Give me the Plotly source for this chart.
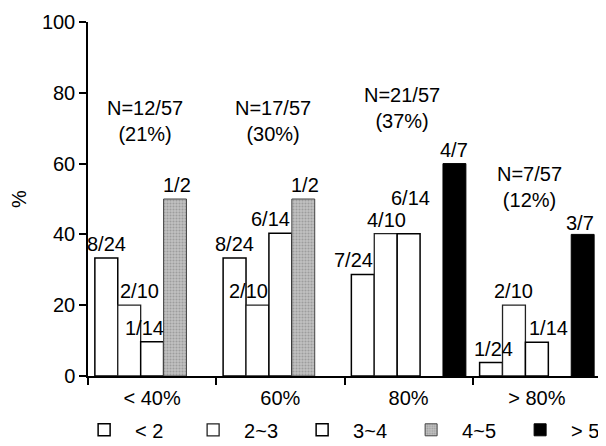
import plotly.graph_objects as go

# ---------------- data ----------------
categories = ["< 40%", "60%", "80%", "> 80%"]
series_names = ["< 2", "2~3", "3~4", "4~5", "> 5"]

vals_lt2 = [33.3, 33.3, 28.7, 3.8]
vals_2_3 = [20.0, 20.0, 40.2, 20.0]
vals_3_4 = [9.7, 40.3, 40.2, 9.5]
vals_4_5 = [50.0, 50.0, None, None]
vals_gt5 = [None, None, 60.0, 40.0]

lbl_lt2 = ["8/24", "8/24", "7/24", "1/24"]
lbl_2_3 = ["2/10", "2/10", "4/10", "2/10"]
lbl_3_4 = ["1/14", "6/14", "6/14", "1/14"]
lbl_4_5 = ["1/2", "1/2", "", ""]
lbl_gt5 = ["", "", "4/7", "3/7"]

group_n = ["N=12/57", "N=17/57", "N=21/57", "N=7/57"]
group_pct = ["(21%)", "(30%)", "(37%)", "(12%)"]
group_label_y = [72, 72, 75.6, 53.4]

y_ticks = [0, 20, 40, 60, 80, 100]

# ---------------- style ----------------
# page body has an 8px margin, so the figure is sized/offset to compensate
W, H = 598, 438
ML, MR, MT, MB = 80, 5, 14, 70
BARGAP = 0.107
FONT = "Liberation Sans, Arial, sans-serif"
FS = 20

all_vals = [vals_lt2, vals_2_3, vals_3_4, vals_4_5, vals_gt5]
all_lbls = [lbl_lt2, lbl_2_3, lbl_3_4, lbl_4_5, lbl_gt5]

markers = [
    dict(color="white", line=dict(color="black", width=1.5)),
    dict(color="white", line=dict(color="#222222", width=1.3)),
    dict(color="white", line=dict(color="black", width=1.5)),
    dict(color="#b8b8b8", line=dict(color="#444444", width=1),
         pattern=dict(shape=".", fgcolor="#777777", bgcolor="#c2c2c2",
                      size=3, solidity=0.4)),
    dict(color="black", line=dict(color="black", width=1)),
]

# per-label pixel nudges (series index, group index) -> (dx, dy)
label_nudge = {
    (1, 0): (10, 0), (2, 0): (-8, 0), (3, 0): (2, 0),
    (1, 1): (-9, 0), (2, 1): (-10, 0), (3, 1): (2, 0),
    (0, 2): (-9, 0), (1, 2): (1, 0), (2, 2): (2, 22),
    (0, 3): (2, 0), (2, 3): (12, 0), (4, 3): (-3, -3),
}

fig = go.Figure()
for name, v, mk in zip(series_names, all_vals, markers):
    fig.add_trace(go.Bar(name=name, x=categories, y=v, marker=mk))

# compute slot width from layout geometry
plot_w = W - ML - MR
group_w = plot_w / len(categories)
slot_w = group_w * (1 - BARGAP) / len(series_names)

annotations = []
for si, (v, lb) in enumerate(zip(all_vals, all_lbls)):
    for gi, (val, txt) in enumerate(zip(v, lb)):
        if val is None or not txt:
            continue
        dx, dy = label_nudge.get((si, gi), (0, 0))
        annotations.append(dict(
            x=categories[gi], y=val, xref="x", yref="y",
            text=txt, showarrow=False, yanchor="middle",
            xshift=(si - 2) * slot_w + dx, yshift=14 + dy,
            font=dict(size=FS, color="black", family=FONT)))

for gi, cat in enumerate(categories):
    annotations.append(dict(
        x=cat, y=group_label_y[gi], xref="x", yref="y",
        text=group_n[gi] + "<br>" + group_pct[gi], showarrow=False,
        xshift=-7, yanchor="middle", align="center",
        font=dict(size=FS, color="black", family=FONT)))

fig.update_layout(
    width=W, height=H,
    margin=dict(l=ML, r=MR, t=MT, b=MB, autoexpand=False),
    paper_bgcolor="white", plot_bgcolor="white",
    barmode="group", bargap=BARGAP, bargroupgap=0,
    font=dict(family=FONT, size=FS, color="black"),
    annotations=annotations,
    legend=dict(orientation="h", x=-0.029, xanchor="left", y=-0.152,
                yanchor="middle", entrywidth=42, entrywidthmode="pixels",
                font=dict(size=FS), itemwidth=52, traceorder="normal"),
    showlegend=True,
)
fig.update_xaxes(type="category", range=[-0.5, 3.5], showline=True,
                 linecolor="black", linewidth=1.5, ticks="outside",
                 tickson="boundaries", ticklen=7, tickcolor="black",
                 tickwidth=1.5, showgrid=False, zeroline=False,
                 tickfont=dict(size=FS), ticklabelstandoff=3)
fig.update_yaxes(range=[0, 100], tickvals=y_ticks, showline=True,
                 linecolor="black", linewidth=1.5, ticks="outside",
                 ticklen=7, tickcolor="black", tickwidth=1.5,
                 showgrid=False, zeroline=False, tickfont=dict(size=FS),
                 title=dict(text="%", font=dict(size=FS), standoff=14))

fig.write_html("out.html")
